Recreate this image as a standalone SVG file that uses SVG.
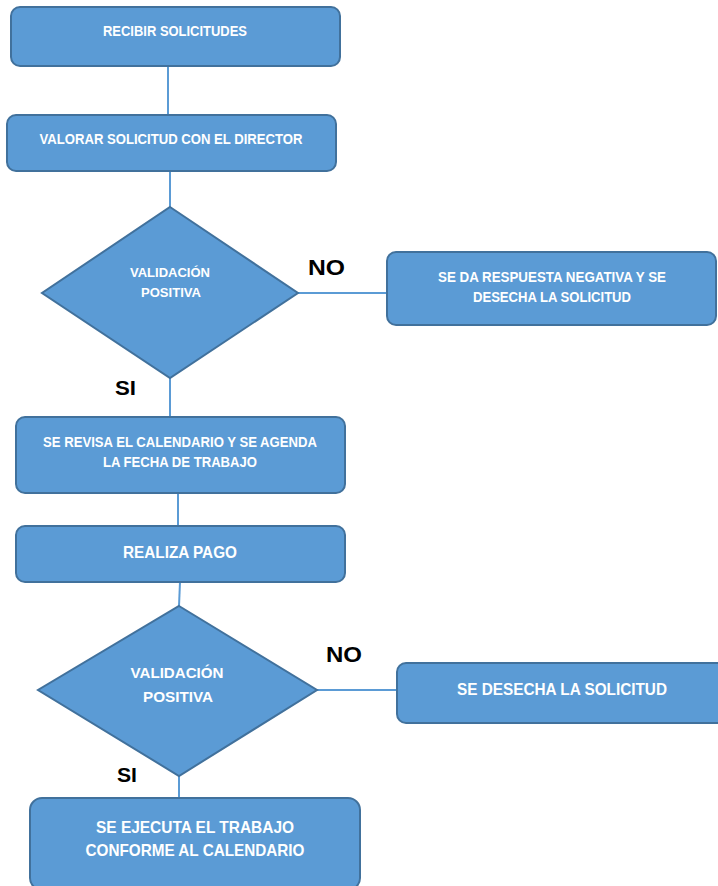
<svg xmlns="http://www.w3.org/2000/svg" width="718" height="886" viewBox="0 0 718 886">
<style>
.box{fill:#5B9BD5;stroke:#41719C;stroke-width:2}
.t{fill:#FFFFFF;font-family:"Liberation Sans Narrow","Liberation Sans",Arial,sans-serif;font-weight:bold;text-anchor:middle}
.lbl{fill:#000000;font-family:"Liberation Sans","Open Sans",Arial,sans-serif;font-weight:bold}
.c{stroke:#5B9BD5;stroke-width:2;fill:none}
</style>
<rect width="718" height="886" fill="#FFFFFF"/>
<g id="connectors">
<line class="c" x1="168" y1="66" x2="168" y2="115"/>
<line class="c" x1="170" y1="171" x2="170" y2="207"/>
<line class="c" x1="298" y1="293" x2="387" y2="293"/>
<line class="c" x1="170" y1="378" x2="170" y2="417"/>
<line class="c" x1="178" y1="493" x2="178" y2="526"/>
<line class="c" x1="180" y1="582" x2="179" y2="606"/>
<line class="c" x1="317" y1="690" x2="397" y2="690"/>
<line class="c" x1="179" y1="776" x2="179" y2="798"/>
</g>
<g id="n1">
<rect class="box" x="11" y="7" width="329" height="59" rx="9"/>
<text class="t" x="175" y="36" font-size="14" textLength="144" lengthAdjust="spacingAndGlyphs">RECIBIR SOLICITUDES</text>
</g>
<g id="n2">
<rect class="box" x="7" y="115" width="329" height="56" rx="9"/>
<text class="t" x="171" y="144" font-size="14" textLength="263" lengthAdjust="spacingAndGlyphs">VALORAR SOLICITUD CON EL DIRECTOR</text>
</g>
<g id="d1">
<polygon class="box" points="170,207 298,293 170,378 42,293"/>
<text class="t" x="170" y="277" font-size="13" textLength="80" lengthAdjust="spacingAndGlyphs">VALIDACIÓN</text>
<text class="t" x="171" y="297" font-size="13" textLength="60" lengthAdjust="spacingAndGlyphs">POSITIVA</text>
</g>
<g id="n3">
<rect class="box" x="387" y="252" width="329" height="73" rx="9"/>
<text class="t" x="552" y="282" font-size="14" textLength="228" lengthAdjust="spacingAndGlyphs">SE DA RESPUESTA NEGATIVA Y SE</text>
<text class="t" x="552" y="302" font-size="14" textLength="158" lengthAdjust="spacingAndGlyphs">DESECHA LA SOLICITUD</text>
</g>
<g id="n4">
<rect class="box" x="16" y="417" width="329" height="76" rx="9"/>
<text class="t" x="180" y="447" font-size="14" textLength="274" lengthAdjust="spacingAndGlyphs">SE REVISA EL CALENDARIO Y SE AGENDA</text>
<text class="t" x="180" y="467" font-size="14" textLength="154" lengthAdjust="spacingAndGlyphs">LA FECHA DE TRABAJO</text>
</g>
<g id="n5">
<rect class="box" x="16" y="526" width="329" height="56" rx="9"/>
<text class="t" x="180" y="558" font-size="16.5" textLength="114" lengthAdjust="spacingAndGlyphs">REALIZA PAGO</text>
</g>
<g id="d2">
<polygon class="box" points="179,606 317,690 179,776 38,690"/>
<text class="t" x="177" y="678" font-size="15.5" textLength="93" lengthAdjust="spacingAndGlyphs">VALIDACIÓN</text>
<text class="t" x="178" y="702" font-size="15.5" textLength="70" lengthAdjust="spacingAndGlyphs">POSITIVA</text>
</g>
<g id="n6">
<rect class="box" x="397" y="663" width="340" height="60" rx="9"/>
<text class="t" x="562" y="695" font-size="16.5" textLength="210" lengthAdjust="spacingAndGlyphs">SE DESECHA LA SOLICITUD</text>
</g>
<g id="n7">
<rect class="box" x="30" y="798" width="330" height="92" rx="12"/>
<text class="t" x="195" y="833" font-size="16.5" textLength="198" lengthAdjust="spacingAndGlyphs">SE EJECUTA EL TRABAJO</text>
<text class="t" x="195" y="856" font-size="16.5" textLength="219" lengthAdjust="spacingAndGlyphs">CONFORME AL CALENDARIO</text>
</g>
<g id="labels">
<text class="lbl" x="308" y="275" font-size="22" textLength="37" lengthAdjust="spacingAndGlyphs">NO</text>
<text class="lbl" x="115" y="395" font-size="21" textLength="21" lengthAdjust="spacingAndGlyphs">SI</text>
<text class="lbl" x="326" y="662" font-size="22" textLength="36" lengthAdjust="spacingAndGlyphs">NO</text>
<text class="lbl" x="117" y="782" font-size="21" textLength="20" lengthAdjust="spacingAndGlyphs">SI</text>
</g>
</svg>
